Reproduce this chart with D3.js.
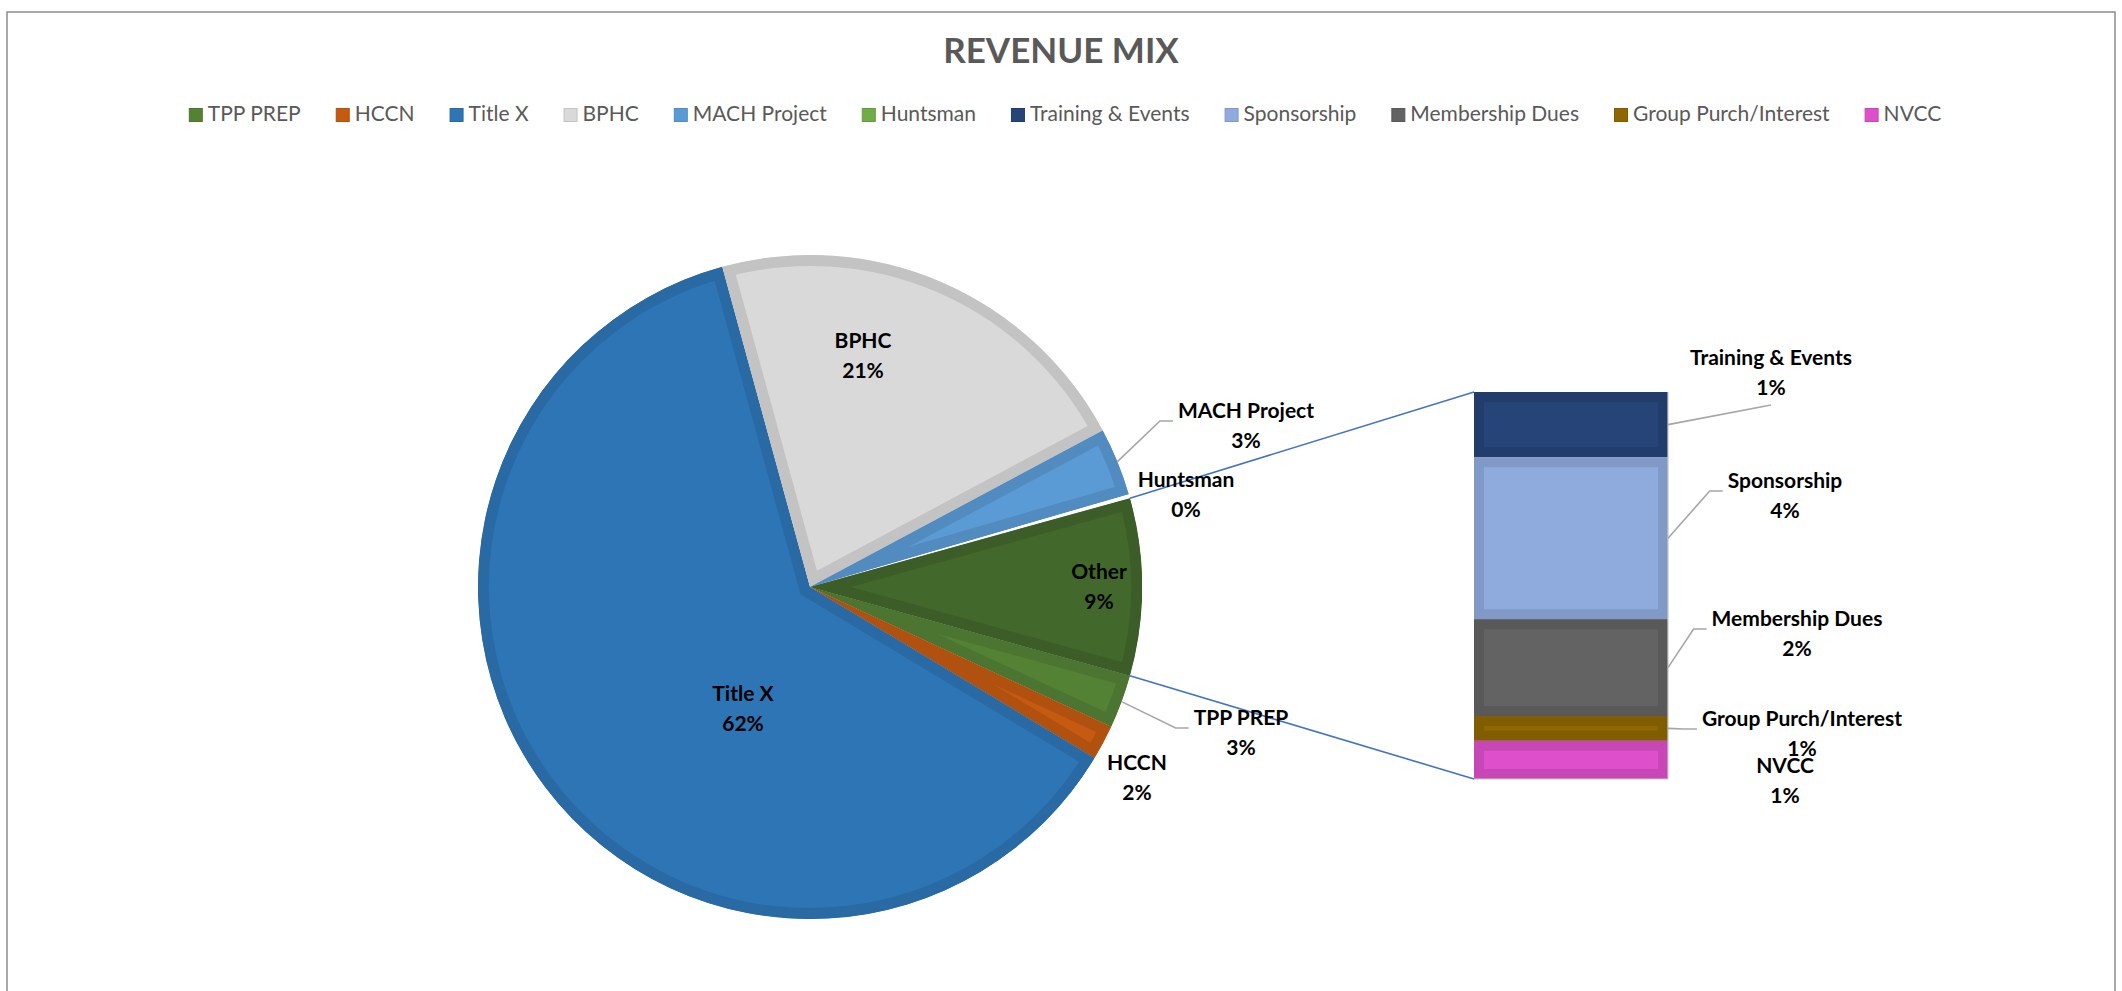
<!DOCTYPE html>
<html>
<head>
<meta charset="utf-8">
<script src="https://cdn.jsdelivr.net/npm/d3@7"></script>
<style>
  body { margin: 0; background: #fff; }
  svg { display: block; }
</style>
</head>
<body>
<div id="chart"></div>
<script>
// ---- data (percent of revenue) ----
const chartTitle = 'REVENUE MIX';
const pieNames = ['TPP PREP', 'HCCN', 'Title X', 'BPHC', 'MACH Project', 'Huntsman'];
const pieValues = [2.6, 1.7, 62.0, 21.4, 3.3, 0.2];
const barNames = ['Training & Events', 'Sponsorship', 'Membership Dues', 'Group Purch/Interest', 'NVCC'];
const barValues = [1.45, 3.6, 2.15, 0.55, 0.85];
const otherName = 'Other';
const legendNames = pieNames.concat(barNames);
const seriesColors = ['#548235', '#C55A11', '#2E75B6', '#D9D9D9', '#5B9BD5', '#70AD47',
                      '#264478', '#8FAADC', '#636363', '#8E6700', '#DD4FCB'];
const otherColor = '#43682B';

// ---- layout ----
const width = 2122;
const height = 991;
const font = 'Lato, "Open Sans", Arial, sans-serif';
const cx = 810, cy = 587, r = 332;          // pie
const barX = 1474, barW = 194;              // bar of pie
const barTop = 392, barBottom = 779;

// where each data label sits: [center x, first baseline], and how its leader line runs
const labelAt = {
    'BPHC': [863, 348],
    'Title X': [743, 701],
    'Other': [1099, 579],
    'MACH Project': [1246, 418, 'elbow'],
    'Huntsman': [1186, 487],
    'TPP PREP': [1241, 725, 'elbow'],
    'HCCN': [1137, 770],
    'Training & Events': [1771, 365, 'below'],
    'Sponsorship': [1785, 488, 'elbow'],
    'Membership Dues': [1797, 626, 'elbow'],
    'Group Purch/Interest': [1802, 726, 'elbow'],
    'NVCC': [1785, 773]
};

const color = d3.scaleOrdinal().domain(legendNames).range(seriesColors);
const edge = c => d3.color(c).darker(0.3).formatHex();

const svg = d3.select('#chart')
    .append('svg')
    .attr('width', width)
    .attr('height', height);

const defs = svg.append('defs');

// chart frame (runs off the bottom like the original)
svg.append('rect')
    .attr('x', 7).attr('y', 12)
    .attr('width', 2108).attr('height', 1000)
    .attr('fill', '#fff')
    .attr('stroke', '#8c8c8c')
    .attr('stroke-width', 1.5);

// title
svg.append('text')
    .attr('x', 1061).attr('y', 63)
    .attr('text-anchor', 'middle')
    .attr('font-family', font)
    .attr('font-weight', 'bold')
    .attr('font-size', '35px')
    .attr('fill', '#595959')
    .text(chartTitle);

// legend
const legend = svg.append('g');
let lx = 0;
legendNames.forEach(n => {
    const g = legend.append('g').attr('transform', `translate(${lx},0)`);
    g.append('rect')
        .attr('x', 0.5).attr('y', -12.5)
        .attr('width', 13).attr('height', 13)
        .attr('fill', color(n))
        .attr('stroke', edge(color(n)));
    const t = g.append('text')
        .attr('x', 19).attr('y', 0)
        .attr('font-family', font)
        .attr('font-size', '21px')
        .attr('fill', '#595959')
        .text(n);
    lx += 19 + t.node().getComputedTextLength() + 35;
});
legend.attr('transform', `translate(${1065 - (lx - 35) / 2}, 121)`);

// ---- pie ----
const otherValue = d3.sum(barValues);
const total = d3.sum(pieValues) + otherValue;
const pieData = pieNames.map((n, i) => ({ name: n, value: pieValues[i] }))
    .concat([{ name: otherName, value: otherValue }]);

// Excel puts the "Other" slice centred on the right-hand side
const otherAngle = 2 * Math.PI * otherValue / total;
const start = Math.PI / 2 + otherAngle / 2;
const pie = d3.pie().sort(null).value(d => d.value)
    .startAngle(start).endAngle(start + 2 * Math.PI);
const arcs = pie(pieData);
const arc = d3.arc().innerRadius(0).outerRadius(r);

// near-zero slices show up only as a white hairline in the original
const sliceFill = d => d.data.name === otherName ? otherColor
    : (d.data.value / total < 0.005 ? '#fff' : color(d.data.name));

const pieG = svg.append('g').attr('transform', `translate(${cx},${cy})`);
arcs.forEach((d, i) => {
    defs.append('clipPath').attr('id', 'pc' + i).append('path').attr('d', arc(d));
});
pieG.selectAll('path.slice')
    .data(arcs)
    .join('path')
    .attr('class', 'slice')
    .attr('d', arc)
    .attr('fill', sliceFill)
    .attr('stroke', d => sliceFill(d) === '#fff' ? 'none' : edge(sliceFill(d)))
    .attr('stroke-width', 22)
    .attr('clip-path', (d, i) => `url(#pc${i})`);

const rimPt = a => [cx + r * Math.sin(a), cy - r * Math.cos(a)];

// ---- bar of pie ----
const yBar = d3.scaleLinear().domain([0, otherValue]).range([barBottom, barTop]);
let acc = otherValue;
const barData = barNames.map((n, i) => {
    const top = acc;
    acc -= barValues[i];
    return { name: n, value: barValues[i], y0: acc, y1: top };
});

const barG = svg.append('g');
barData.forEach((d, i) => {
    defs.append('clipPath').attr('id', 'bc' + i).append('rect')
        .attr('x', barX).attr('y', yBar(d.y1))
        .attr('width', barW).attr('height', yBar(d.y0) - yBar(d.y1));
});
barG.selectAll('rect.seg')
    .data(barData)
    .join('rect')
    .attr('class', 'seg')
    .attr('x', barX)
    .attr('y', d => yBar(d.y1))
    .attr('width', barW)
    .attr('height', d => yBar(d.y0) - yBar(d.y1))
    .attr('fill', d => color(d.name))
    .attr('stroke', d => edge(color(d.name)))
    .attr('stroke-width', 20)
    .attr('clip-path', (d, i) => `url(#bc${i})`);

barG.append('path')
    .attr('d', `M${barX + barW},${yBar(otherValue)}V${yBar(0)}H${barX}`)
    .attr('fill', 'none')
    .attr('stroke', '#c8c8c8')
    .attr('stroke-width', 1.2);

// connector lines from the Other slice to the bar
const otherArc = arcs.find(d => d.data.name === otherName);
[[otherArc.startAngle, yBar(otherValue)], [otherArc.endAngle, yBar(0)]].forEach(([a, y]) => {
    const p = rimPt(a);
    svg.append('line')
        .attr('x1', p[0]).attr('y1', p[1])
        .attr('x2', barX).attr('y2', y)
        .attr('stroke', '#4472C4')
        .attr('stroke-width', 1.6);
});

// ---- data labels ----
const pct = v => Math.round(v / total * 100) + '%';
const labelItems = arcs.map(d => ({
    name: d.data.name,
    value: d.value,
    anchor: rimPt((d.startAngle + d.endAngle) / 2)
})).concat(barData.map(d => ({
    name: d.name,
    value: d.value,
    anchor: [barX + barW, (yBar(d.y0) + yBar(d.y1)) / 2]
})));

const leaders = svg.append('g');
const labels = svg.append('g');
labelItems.forEach(d => {
    const [x, y, mode] = labelAt[d.name];
    const t = labels.append('text')
        .attr('font-family', font)
        .attr('font-weight', 'bold')
        .attr('font-size', '21px')
        .attr('fill', '#000')
        .attr('text-anchor', 'middle');
    const t1 = t.append('tspan').attr('x', x).attr('y', y).text(d.name);
    t.append('tspan').attr('x', x).attr('y', y + 29.5).text(pct(d.value));

    if (mode === 'elbow') {
        const left = x - t1.node().getComputedTextLength() / 2;
        const end = [left - 5, y + 3];
        const knee = [end[0] - 13, end[1]];
        leaders.append('polyline')
            .attr('points', [d.anchor, knee, end].map(p => p.join(',')).join(' '))
            .attr('fill', 'none')
            .attr('stroke', '#a6a6a6')
            .attr('stroke-width', 1.6);
    } else if (mode === 'below') {
        leaders.append('line')
            .attr('x1', d.anchor[0]).attr('y1', d.anchor[1])
            .attr('x2', x).attr('y2', y + 40)
            .attr('stroke', '#a6a6a6')
            .attr('stroke-width', 1.6);
    }
});
</script>
</body>
</html>
